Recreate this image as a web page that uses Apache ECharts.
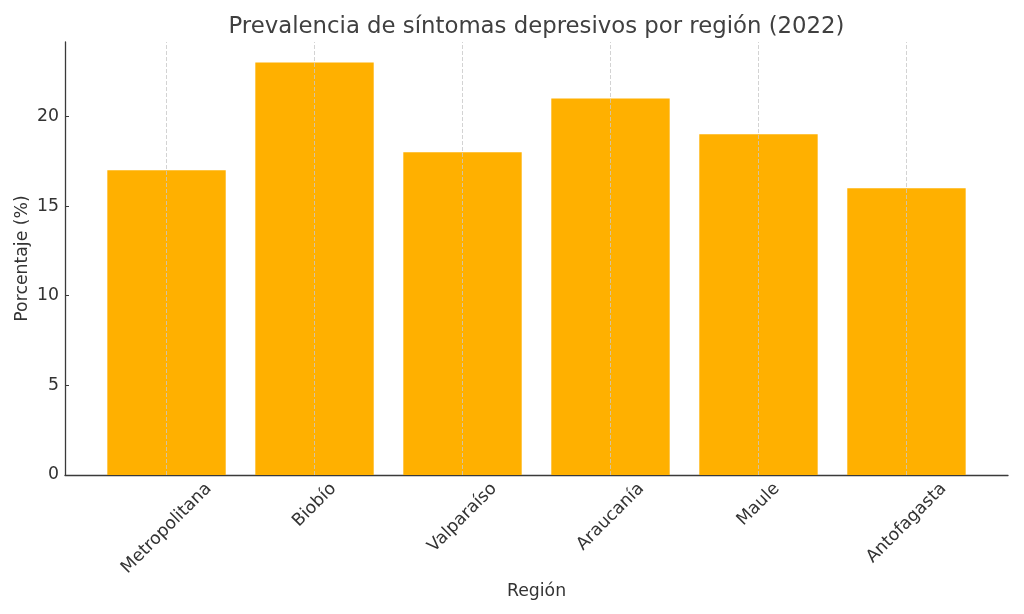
<!DOCTYPE html>
<html>
<head>
<meta charset="utf-8">
<script src="https://cdn.jsdelivr.net/npm/echarts@6/dist/echarts.min.js"></script>
<style>
  html, body { margin: 0; padding: 0; background: #fff; }
  #chart { width: 1024px; height: 614px; }
</style>
</head>
<body>
<div id="chart"></div>
<script>
const regions = ["Metropolitana", "Biobío", "Valparaíso", "Araucanía", "Maule", "Antofagasta"]
const prevalence = [17, 23, 18, 21, 19, 16]
const yTicks = [0, 5, 10, 15, 20]

const positions = regions.map((_, i) => i)
const font = "DejaVu Sans"
const ink = "#333333"
const labelSize = 17.3

// matplotlib centres rotated tick labels under the tick with their tops aligned;
// ECharts right-aligns them, so pad each label by its own size to mimic that
const measure = document.createElement("canvas").getContext("2d")
measure.font = `${labelSize}px "${font}"`
const rich = {}
regions.forEach((name, i) => {
  const pad = (measure.measureText(name).width + labelSize) / 2
  rich[`r${i}`] = { padding: [pad, pad, 0, 0], fontSize: labelSize, color: ink, fontFamily: font }
})

const chart = echarts.init(document.getElementById("chart"))
chart.setOption({
  animation: false,
  textStyle: { fontFamily: font },
  title: {
    text: "Prevalencia de síntomas depresivos por región (2022)",
    left: 536.5,
    top: 16,
    padding: 0,
    textAlign: "center",
    textStyle: { fontFamily: font, fontSize: 22.8, fontWeight: "normal", color: "#404040" }
  },
  grid: { left: 65, right: 16, top: 42, bottom: 139, outerBoundsMode: "none" },
  xAxis: {
    type: "value",
    min: -0.686,
    max: 5.686,
    name: "Región",
    nameLocation: "middle",
    nameGap: 108,
    nameMoveOverlap: false,
    nameTextStyle: { fontSize: labelSize, color: ink },
    axisLine: { show: true, onZero: false, lineStyle: { color: "#3a3a3a", width: 1.3 } },
    axisTick: { show: true, inside: true, length: 4, customValues: positions, lineStyle: { color: "#3a3a3a" } },
    axisLabel: {
      customValues: positions,
      rotate: 45,
      margin: 5,
      align: "center",
      verticalAlign: "middle",
      fontSize: labelSize,
      color: ink,
      rich,
      formatter: (v) => (regions[v] ? `{r${v}|${regions[v]}}` : "")
    },
    splitLine: { show: false }
  },
  yAxis: {
    type: "value",
    min: 0,
    max: 24.15,
    name: "Porcentaje (%)",
    nameLocation: "middle",
    nameGap: 34,
    nameMoveOverlap: false,
    nameTextStyle: { fontSize: labelSize, color: ink },
    axisLine: { show: true, onZero: false, lineStyle: { color: "#3a3a3a", width: 1.3 } },
    axisTick: { show: true, inside: true, length: 4, customValues: yTicks, lineStyle: { color: "#3a3a3a" } },
    axisLabel: { customValues: yTicks, fontSize: labelSize, color: ink, margin: 6 },
    splitLine: { show: false }
  },
  series: [
    {
      type: "bar",
      barWidth: "80%",
      itemStyle: { color: "#FFB000" },
      data: prevalence.map((v, i) => [i, v]),
      markLine: {
        silent: true,
        symbol: ["none", "none"],
        label: { show: false },
        z: 5,
        lineStyle: { color: "#c8c8c8", type: [4, 2], width: 0.8 },
        data: positions.map((i) => ({ xAxis: i }))
      }
    }
  ]
})
</script>
</body>
</html>
